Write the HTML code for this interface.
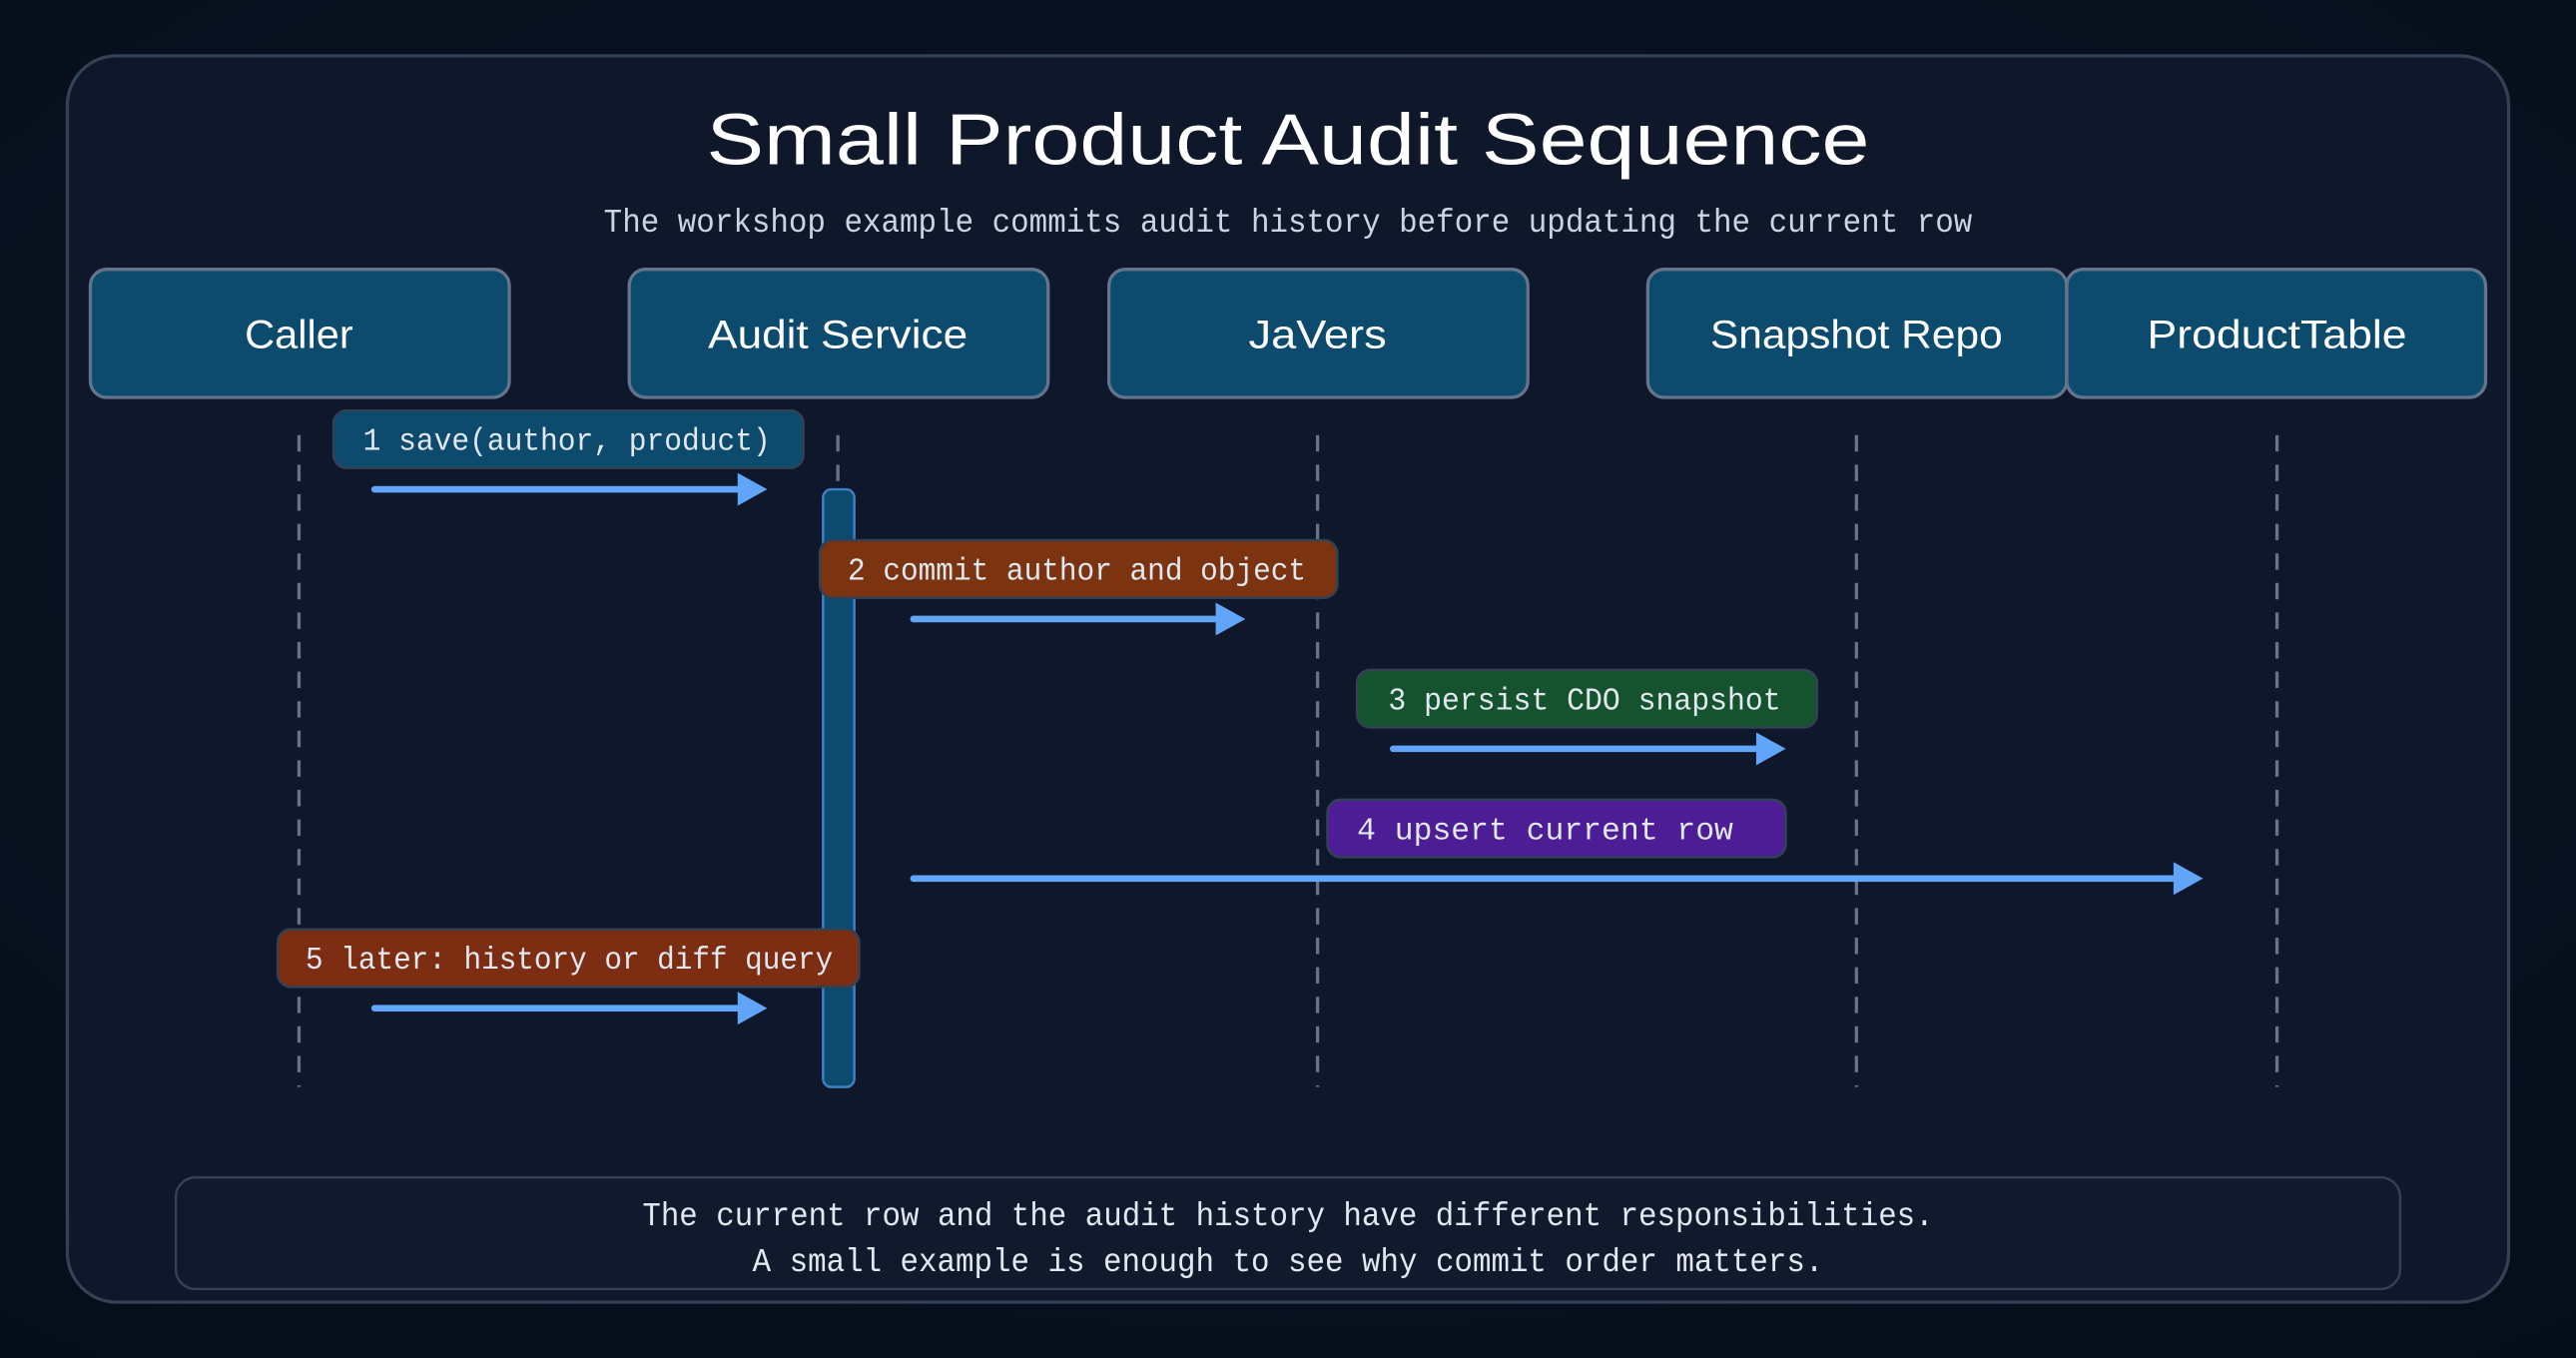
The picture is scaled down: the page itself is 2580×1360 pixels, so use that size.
<!DOCTYPE html>
<html><head><meta charset="utf-8"><style>
html,body{margin:0;padding:0;background:#08101f;}
svg{display:block}
</style></head><body>
<svg width="2580" height="1360" viewBox="0 0 1568 827" preserveAspectRatio="none" xmlns="http://www.w3.org/2000/svg">
<defs>
<radialGradient id="bg" cx="50%" cy="40%" r="80%"><stop offset="0" stop-color="#0b1426"/><stop offset="1" stop-color="#060d1a"/></radialGradient>
</defs>
<rect width="1568" height="827" fill="url(#bg)"/>
<rect x="41" y="34" width="1486" height="759" rx="30" fill="#0f172a" stroke="#334155" stroke-width="2"/>
<text x="784" y="100" text-anchor="middle" font-family="Liberation Sans, sans-serif" font-size="44" fill="#ffffff" textLength="708" lengthAdjust="spacingAndGlyphs">Small Product Audit Sequence</text>
<text x="784" y="141" text-anchor="middle" font-family="Liberation Mono, monospace" font-size="20" fill="#cbd5e1" textLength="833" lengthAdjust="spacingAndGlyphs">The workshop example commits audit history before updating the current row</text>

<g fill="#0c4a6e" stroke="#64748b" stroke-width="2">
<rect x="55" y="164" width="255" height="78" rx="10"/>
<rect x="383" y="164" width="255" height="78" rx="10"/>
<rect x="675" y="164" width="255" height="78" rx="10"/>
<rect x="1003" y="164" width="255" height="78" rx="10"/>
<rect x="1258" y="164" width="255" height="78" rx="10"/>
</g>
<g font-family="Liberation Sans, sans-serif" font-size="24" fill="#ffffff" text-anchor="middle">
<text x="182" y="212" textLength="66" lengthAdjust="spacingAndGlyphs">Caller</text>
<text x="510" y="212" textLength="158" lengthAdjust="spacingAndGlyphs">Audit Service</text>
<text x="802" y="212" textLength="84" lengthAdjust="spacingAndGlyphs">JaVers</text>
<text x="1130" y="212" textLength="178" lengthAdjust="spacingAndGlyphs">Snapshot Repo</text>
<text x="1386" y="212" textLength="158" lengthAdjust="spacingAndGlyphs">ProductTable</text>
</g>

<g stroke="#64748b" stroke-width="2" stroke-dasharray="10,8">
<line x1="182" y1="265" x2="182" y2="662"/>
<line x1="510" y1="265" x2="510" y2="298"/>
<line x1="802" y1="265" x2="802" y2="662"/>
<line x1="1130" y1="265" x2="1130" y2="662"/>
<line x1="1386" y1="265" x2="1386" y2="662"/>
</g>
<rect x="501" y="298" width="19" height="364" rx="5" fill="#0c4a6e" stroke="#3b82c4" stroke-width="1.5"/>

<g stroke="#334155" stroke-width="1.5">
<rect x="203" y="250" width="286" height="35" rx="8" fill="#0c4a6e"/>
<rect x="499" y="329" width="315" height="35" rx="8" fill="#7c3410"/>
<rect x="826" y="408" width="280" height="35" rx="8" fill="#14532d"/>
<rect x="808" y="487" width="279" height="35" rx="8" fill="#4c1d95"/>
<rect x="169" y="566" width="354" height="35" rx="8" fill="#7c2d12"/>
</g>
<g font-family="Liberation Mono, monospace" font-size="19" fill="#e2e8f0">
<text x="221" y="274" textLength="248" lengthAdjust="spacingAndGlyphs">1  save(author, product)</text>
<text x="516" y="353" textLength="279" lengthAdjust="spacingAndGlyphs">2  commit author and object</text>
<text x="845" y="432" textLength="239" lengthAdjust="spacingAndGlyphs">3  persist CDO snapshot</text>
<text x="826" y="511" textLength="229" lengthAdjust="spacingAndGlyphs">4   upsert current row</text>
<text x="186" y="590" textLength="321" lengthAdjust="spacingAndGlyphs">5 later: history or diff query</text>
</g>

<g stroke="#60a5fa" stroke-width="4" stroke-linecap="round" fill="#60a5fa">
<line x1="228" y1="298" x2="462" y2="298"/>
<line x1="556" y1="377" x2="753" y2="377"/>
<line x1="848" y1="456" x2="1082" y2="456"/>
<line x1="556" y1="535" x2="1336" y2="535"/>
<line x1="228" y1="614" x2="462" y2="614"/>
</g>
<g fill="#60a5fa">
<polygon points="449,288 467,298 449,308"/>
<polygon points="740,367 758,377 740,387"/>
<polygon points="1069,446 1087,456 1069,466"/>
<polygon points="1323,525 1341,535 1323,545"/>
<polygon points="449,604 467,614 449,624"/>
</g>

<rect x="107" y="717" width="1354" height="68" rx="12" fill="#111a2c" stroke="#334155" stroke-width="1.5"/>
<g font-family="Liberation Mono, monospace" font-size="20" fill="#e2e8f0" text-anchor="middle">
<text x="784" y="746" textLength="786" lengthAdjust="spacingAndGlyphs">The current row and the audit history have different responsibilities.</text>
<text x="784" y="774" textLength="652" lengthAdjust="spacingAndGlyphs">A small example is enough to see why commit order matters.</text>
</g>
</svg>
</body></html>
